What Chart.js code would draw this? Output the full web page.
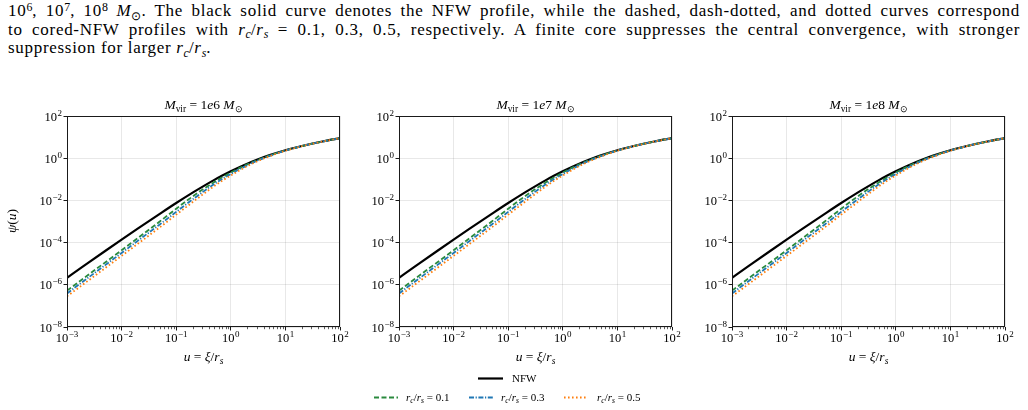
<!DOCTYPE html>
<html>
<head>
<meta charset="utf-8">
<script src="https://cdn.jsdelivr.net/npm/chart.js@4.4.1/dist/chart.umd.min.js"></script>
<style>
  html, body { margin:0; padding:0; background:#fff; }
  body { width:1028px; height:410px; position:relative; overflow:hidden; font-family:"Liberation Serif", serif; color:#000; }
  .cap { position:absolute; left:8px; width:1012px; font-size:17px; letter-spacing:0.7px; line-height:18.5px; text-align:justify; text-align-last:justify; white-space:nowrap; }
  .cap.last { text-align-last:left; }
  sup, sub { font-size:70%; line-height:0; position:relative; vertical-align:baseline; letter-spacing:0; }
  sup { top:-0.45em; }
  sub { top:0.3em; }
  .title, .xlab { position:absolute; text-align:center; font-size:13.5px; line-height:14px; }
  .ylab { position:absolute; font-size:13.5px; transform:rotate(-90deg); transform-origin:center; width:60px; text-align:center; }
  canvas { position:absolute; }
  .leg { position:absolute; font-size:11px; line-height:12px; }
  svg { position:absolute; left:0; top:0; }
</style>
</head>
<body>
<div class="cap" style="top:2px">10<sup>6</sup>, 10<sup>7</sup>, 10<sup>8</sup> <i>M</i><sub>⊙</sub>. The black solid curve denotes the NFW profile, while the dashed, dash-dotted, and dotted curves correspond</div>
<div class="cap" style="top:20.5px">to cored-NFW profiles with <i>r<sub>c</sub></i>/<i>r<sub>s</sub></i> = 0.1, 0.3, 0.5, respectively. A finite core suppresses the central convergence, with stronger</div>
<div class="cap last" style="top:39px">suppression for larger <i>r<sub>c</sub></i>/<i>r<sub>s</sub></i>.</div>

<div id="panels"></div>

<svg width="1028" height="410">
  <line x1="478" y1="378.5" x2="503" y2="378.5" stroke="#000" stroke-width="2.2"/>
  <line x1="374" y1="397.5" x2="398" y2="397.5" stroke="#2a8a3e" stroke-width="1.8" stroke-dasharray="5 2.5"/>
  <line x1="469" y1="397.5" x2="493" y2="397.5" stroke="#1f77b4" stroke-width="1.8" stroke-dasharray="5 1.6 1.2 1.6"/>
  <line x1="564" y1="397.5" x2="588" y2="397.5" stroke="#ff7f0e" stroke-width="1.8" stroke-dasharray="1.6 2.4"/>
</svg>
<div class="leg" style="left:512px; top:372px;">NFW</div>
<div class="leg" style="left:406px; top:391px;"><i>r<sub>c</sub></i>/<i>r<sub>s</sub></i> = 0.1</div>
<div class="leg" style="left:501px; top:391px;"><i>r<sub>c</sub></i>/<i>r<sub>s</sub></i> = 0.3</div>
<div class="leg" style="left:597px; top:391px;"><i>r<sub>c</sub></i>/<i>r<sub>s</sub></i> = 0.5</div>

<script>
// ---- data ----
const uValues   = [1e-3, 2e-3, 5e-3, 1e-2, 2e-2, 5e-2, 0.1, 0.2, 0.3, 0.5, 0.7, 1, 1.5, 2, 3, 5, 10, 20, 30, 50, 100];
const psiNFW    = [2.15e-6, 7.6e-6, 4.0e-5, 1.38e-4, 4.7e-4, 2.3e-3, 7.5e-3, 0.0233, 0.0439, 0.0937, 0.150, 0.240, 0.395, 0.548, 0.840, 1.357, 2.377, 3.807, 4.849, 6.383, 8.87];
const psiCore01 = [5.28e-7, 2.0e-6, 1.15e-5, 4.36e-5, 1.67e-4, 1.0e-3, 4.03e-3, 0.0154, 0.0318, 0.0744, 0.1248, 0.209, 0.356, 0.506, 0.793, 1.311, 2.334, 3.773, 4.815, 6.351, 8.85];
const psiCore03 = [3.91e-7, 1.48e-6, 8.55e-6, 3.23e-5, 1.24e-4, 7.27e-4, 2.85e-3, 0.01116, 0.0241, 0.0605, 0.1038, 0.178, 0.318, 0.461, 0.749, 1.266, 2.296, 3.738, 4.782, 6.325, 8.83];
const psiCore05 = [2.84e-7, 1.07e-6, 6.2e-6, 2.35e-5, 8.97e-5, 5.27e-4, 2.11e-3, 8.27e-3, 0.0183, 0.0481, 0.0863, 0.1514, 0.280, 0.420, 0.699, 1.209, 2.244, 3.693, 4.747, 6.31, 8.81];
const panelMasses = ['1e6', '1e7', '1e8'];
const xTickValues = [1e-3, 1e-2, 1e-1, 1, 1e1, 1e2];
const yTickValues = [1e-8, 1e-6, 1e-4, 1e-2, 1, 1e2];
const seriesLabels = ['NFW', 'r_c/r_s=0.1', 'r_c/r_s=0.3', 'r_c/r_s=0.5'];

// ---- layout ----
const plotLefts = [67, 399, 732];
const plotW = 273, plotTop = 116, plotH = 211;
const yAxisW = 52, xAxisH = 24, padTop = 8, padRight = 16;

function expOf(v){ return String(Math.round(Math.log10(v))).replace('-', '\u2212'); }
function pts(arr){ return uValues.map((u,i) => ({x:u, y:arr[i]})); }

function drawPow(ctx, x, baseY, v, align){
  const base = '10', ex = expOf(v);
  ctx.font = '12.5px "Liberation Serif"';
  const wb = ctx.measureText(base).width;
  ctx.font = '9px "Liberation Serif"';
  const we = ctx.measureText(ex).width;
  const total = wb + we + 0.5;
  let x0 = align === 'center' ? x - total/2 : x - total;
  ctx.textAlign = 'left';
  ctx.textBaseline = 'alphabetic';
  ctx.font = '12.5px "Liberation Serif"';
  ctx.fillText(base, x0, baseY);
  ctx.font = '9px "Liberation Serif"';
  ctx.fillText(ex, x0 + wb + 0.5, baseY - 5);
}

const framePlugin = {
  id:'frame',
  afterDraw(chart){
    const {ctx, chartArea:a, scales} = chart;
    ctx.save();
    ctx.strokeStyle = '#1a1a1a';
    ctx.lineWidth = 1;
    ctx.strokeRect(Math.round(a.left)+0.5, Math.round(a.top)+0.5, Math.round(a.right-a.left)-1, Math.round(a.bottom-a.top)-1);
    // minor x ticks
    ctx.beginPath();
    for (let d = -3; d <= 1; d++) {
      for (let k = 2; k <= 9; k++) {
        const px = Math.round(scales.x.getPixelForValue(k*Math.pow(10,d))) + 0.5;
        ctx.moveTo(px, a.bottom);
        ctx.lineTo(px, a.bottom + 2.2);
      }
    }
    ctx.lineWidth = 0.7;
    ctx.stroke();
    // tick labels with real superscripts
    ctx.fillStyle = '#000';
    xTickValues.forEach(v => drawPow(ctx, scales.x.getPixelForValue(v), a.bottom + 14.5, v, 'center'));
    yTickValues.forEach(v => drawPow(ctx, a.left - 5, scales.y.getPixelForValue(v) + 4.5, v, 'right'));
    ctx.restore();
  }
};

const panels = document.getElementById('panels');
panelMasses.forEach((m, idx) => {
  const left = plotLefts[idx] - yAxisW;
  const top = plotTop - padTop;
  const W = yAxisW + plotW + padRight;
  const H = padTop + plotH + xAxisH;
  const cv = document.createElement('canvas');
  cv.width = W; cv.height = H;
  cv.style.left = left + 'px'; cv.style.top = top + 'px';
  cv.style.width = W + 'px'; cv.style.height = H + 'px';
  panels.appendChild(cv);

  const t = document.createElement('div');
  t.className = 'title';
  t.style.left = plotLefts[idx] + 'px'; t.style.width = plotW + 'px'; t.style.top = '98px';
  t.innerHTML = '<i>M</i><sub>vir</sub> = 1<i>e</i>' + m.slice(2) + ' <i>M</i><sub>⊙</sub>';
  panels.appendChild(t);

  const xl = document.createElement('div');
  xl.className = 'xlab';
  xl.style.left = plotLefts[idx] + 'px'; xl.style.width = plotW + 'px'; xl.style.top = '350px';
  xl.innerHTML = '<i>u</i> = <i>ξ</i>/<i>r<sub>s</sub></i>';
  panels.appendChild(xl);

  if (idx === 0) {
    const yl = document.createElement('div');
    yl.className = 'ylab';
    yl.style.left = (12 - 30) + 'px'; yl.style.top = (221 - 8) + 'px';
    yl.innerHTML = '<i>ψ</i>(<i>u</i>)';
    panels.appendChild(yl);
  }

  new Chart(cv.getContext('2d'), {
    type:'line',
    data:{
      datasets:[
        {label:seriesLabels[0], data:pts(psiNFW), borderColor:'#000', borderWidth:2.2, order:3},
        {label:seriesLabels[1], data:pts(psiCore01), borderColor:'#2a8a3e', borderWidth:1.8, borderDash:[5,2.5], order:2},
        {label:seriesLabels[2], data:pts(psiCore03), borderColor:'#1f77b4', borderWidth:1.8, borderDash:[5,1.6,1.2,1.6], order:1},
        {label:seriesLabels[3], data:pts(psiCore05), borderColor:'#ff7f0e', borderWidth:1.8, borderDash:[1.6,2.4], order:0}
      ]
    },
    options:{
      responsive:false, animation:false, devicePixelRatio:1, events:[],
      parsing:false,
      elements:{ point:{radius:0}, line:{cubicInterpolationMode:'monotone', fill:false} },
      layout:{ padding:{top:padTop, right:padRight, left:0, bottom:0} },
      plugins:{ legend:{display:false}, tooltip:{enabled:false}, title:{display:false} },
      scales:{
        x:{
          type:'logarithmic', min:1e-3, max:1e2,
          afterBuildTicks(s){ s.ticks = xTickValues.map(v => ({value:v})); },
          afterFit(s){ s.height = xAxisH; },
          ticks:{ display:false, autoSkip:false, maxRotation:0 },
          grid:{ color:'rgba(0,0,0,0.09)', lineWidth:1, tickColor:'#1a1a1a', tickLength:3.5, drawTicks:true },
          border:{ display:false }
        },
        y:{
          type:'logarithmic', min:1e-8, max:1e2,
          afterBuildTicks(s){ s.ticks = yTickValues.map(v => ({value:v})); },
          afterFit(s){ s.width = yAxisW; },
          ticks:{ display:false, autoSkip:false },
          grid:{ color:'rgba(0,0,0,0.09)', lineWidth:1, tickColor:'#1a1a1a', tickLength:3.5, drawTicks:true },
          border:{ display:false }
        }
      }
    },
    plugins:[framePlugin]
  });
});
</script>
</body>
</html>
